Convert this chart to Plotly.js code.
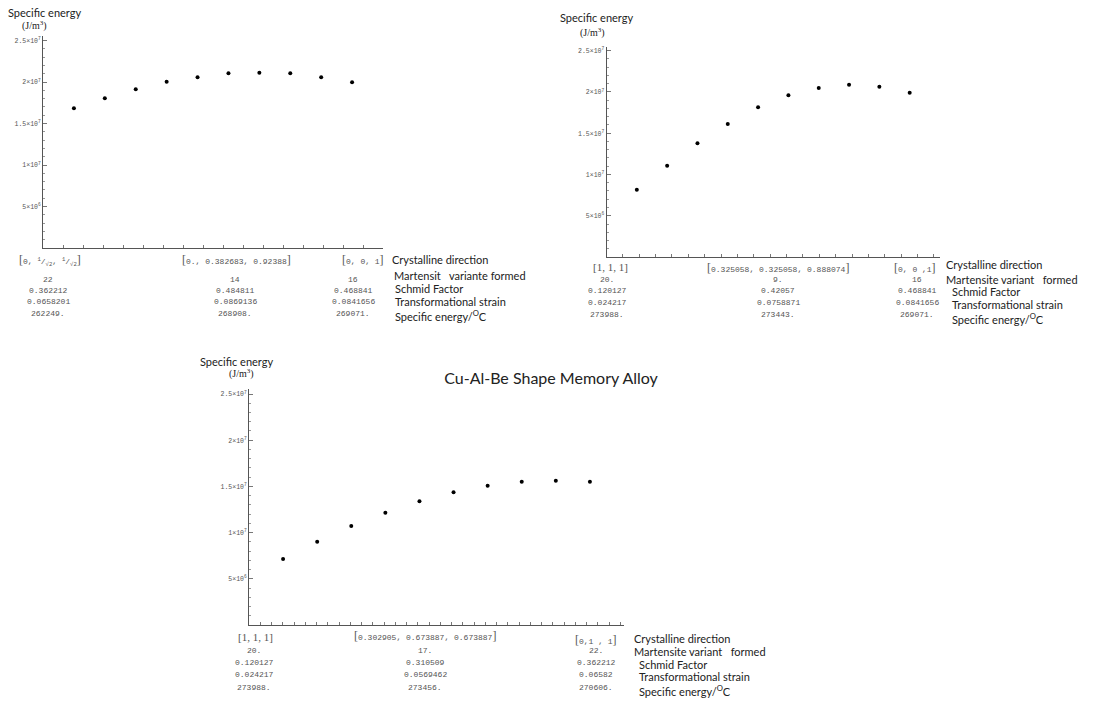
<!DOCTYPE html>
<html>
<head>
<meta charset="utf-8">
<script src="https://cdn.plot.ly/plotly-3.0.1.min.js"></script>
<style>html,body{margin:0;padding:0;background:#fff;}#chart{width:1107px;height:701px;}</style>
</head>
<body>
<div id="chart"></div>
<script>
// ---------------- DATA ----------------
const pointIndex = [1, 2, 3, 4, 5, 6, 7, 8, 9, 10];
const energyA = [1.683e7, 1.804e7, 1.912e7, 2.004e7, 2.057e7, 2.105e7, 2.112e7, 2.105e7, 2.057e7, 1.996e7];
const energyB = [0.816e7, 1.107e7, 1.378e7, 1.612e7, 1.815e7, 1.960e7, 2.048e7, 2.088e7, 2.064e7, 1.992e7];
const energyC = [0.714e7, 0.902e7, 1.071e7, 1.215e7, 1.339e7, 1.436e7, 1.508e7, 1.551e7, 1.562e7, 1.551e7];

const yTickVals = [5e6, 1e7, 1.5e7, 2e7, 2.5e7];
const yTickText = ["5×10<sup>6</sup>", "1×10<sup>7</sup>", "1.5×10<sup>7</sup>", "2×10<sup>7</sup>", "2.5×10<sup>7</sup>"];

const axisTitleTop = "Specific energy";
const axisTitleUnit = "(J/m<sup>3</sup>)";
const chartTitle = "Cu-Al-Be Shape Memory Alloy";

const rowLabelsA = ["Crystalline direction", "Martensit\u00a0\u00a0 variante formed", "Schmid Factor", "Transformational strain", "Specific energy/<sup>O</sup>C"];
const rowLabelsB = ["Crystalline direction", "Martensite variant\u00a0\u00a0 formed", "Schmid Factor", "Transformational strain", "Specific energy/<sup>O</sup>C"];
const rowLabelsC = ["Crystalline direction", "Martensite variant\u00a0\u00a0 formed", "Schmid Factor", "Transformational strain", "Specific energy/<sup>O</sup>C"];

const directionsA = ["[0, 1/√2, 1/√2]", "[0., 0.382683, 0.92388]", "[0, 0, 1]"];
const variantsA = ["22", "14", "16"];
const schmidA = ["0.362212", "0.484811", "0.468841"];
const strainA = ["0.0658201", "0.0869136", "0.0841656"];
const specEnergyA = ["262249.", "268908.", "269071."];

const directionsB = ["[1, 1, 1]", "[0.325058, 0.325058, 0.888074]", "[0, 0 ,1]"];
const variantsB = ["20.", "9.", "16"];
const schmidB = ["0.120127", "0.42057", "0.468841"];
const strainB = ["0.024217", "0.0758871", "0.0841656"];
const specEnergyB = ["273988.", "273443.", "269071."];

const directionsC = ["[1, 1, 1]", "[0.302905, 0.673887, 0.673887]", "[0,1 , 1]"];
const variantsC = ["20.", "17.", "22."];
const schmidC = ["0.120127", "0.310509", "0.362212"];
const strainC = ["0.024217", "0.0569462", "0.06582"];
const specEnergyC = ["273988.", "273456.", "270606."];

// ---------------- LAYOUT HELPERS ----------------
const W = 1107, H = 701;
const fx = p => p / W;
const fy = p => 1 - p / H;

const MONO = "Liberation Mono, DejaVu Sans Mono, monospace";
const SERIF = "Liberation Serif, DejaVu Serif, serif";
const SANS = "Lato, Open Sans, sans-serif";

function ann(text, px, py, font, xanchor) {
  return {text: text, x: fx(px), y: fy(py), xref: "paper", yref: "paper",
          showarrow: false, xanchor: xanchor || "center", yanchor: "middle",
          font: font, align: "left"};
}

function dirText(s) {
  let inner = s.slice(1, -1);
  const br = t => '<span style="font-family:Liberation Serif;font-size:12px">' + t + '</span>';
  if (inner.indexOf("0") === -1) {
    return '<span style="font-family:Liberation Serif;font-size:11px;">' + s + '</span>';
  }
  inner = inner.replace(/1\/√2/g, "<sup>1</sup>/<sub>√2</sub>");
  return br("[") + inner + br("]");
}

function xAx(domain, anchor, dtick) {
  return {domain: domain, anchor: anchor, range: [0, 11], showline: true, linecolor: "#555", linewidth: 1,
          showgrid: false, zeroline: false, showticklabels: false, ticks: "inside", ticklen: 3,
          tickcolor: "#777", tickmode: "linear", tick0: 0, dtick: dtick, fixedrange: true};
}
function yAx(domain, anchor) {
  return {domain: domain, anchor: anchor, range: [0, 2.55e7], showline: true, linecolor: "#555", linewidth: 1,
          showgrid: false, zeroline: false, tickmode: "array", tickvals: yTickVals, ticktext: yTickText,
          ticks: "inside", ticklen: 4, tickcolor: "#777",
          tickfont: {family: MONO, size: 6.5, color: "#555"},
          minor: {ticks: "inside", ticklen: 2, tickcolor: "#999", tickmode: "linear", tick0: 0, dtick: 1e6},
          fixedrange: true};
}

// plot boxes in pixels: [left, right, bottom, top]
const boxA = [43, 383, 248, 36.4];
const boxB = [606.5, 940, 257, 46.6];
const boxC = [249, 624, 625, 389.4];
const dom = b => ({x: [fx(b[0]), fx(b[1])], y: [fy(b[2]), fy(b[3])]});
const dA = dom(boxA), dB = dom(boxB), dC = dom(boxC);

const marker = {size: 4, color: "#000", symbol: "circle"};
const traces = [
  {x: pointIndex, y: energyA, xaxis: "x", yaxis: "y", mode: "markers", marker: marker, hoverinfo: "skip"},
  {x: pointIndex, y: energyB, xaxis: "x2", yaxis: "y2", mode: "markers", marker: marker, hoverinfo: "skip"},
  {x: pointIndex, y: energyC, xaxis: "x3", yaxis: "y3", mode: "markers", marker: marker, hoverinfo: "skip"}
];

const annotations = [];
const fTitle = {family: SANS, size: 11, color: "#222"};
const fUnit = {family: SERIF, size: 10, color: "#222"};
const fVal = {family: MONO, size: 8, color: "#555"};
const fRow = {family: SANS, size: 11, color: "#222"};

function addTable(dirs, vars, sch, str, en, labels, dirX, valX, dirY, valYs, labX, labYs) {
  for (let i = 0; i < 3; i++) {
    annotations.push(ann(dirText(dirs[i]), dirX[i], dirY[i], fVal));
    annotations.push(ann(vars[i], valX[i], valYs[0], fVal));
    annotations.push(ann(sch[i], valX[i], valYs[1], fVal));
    annotations.push(ann(str[i], valX[i], valYs[2], fVal));
    annotations.push(ann(en[i], valX[i], valYs[3], fVal));
  }
  for (let j = 0; j < labels.length; j++) {
    annotations.push(ann(labels[j], labX[j], labYs[j], fRow, "left"));
  }
}

// axis titles
annotations.push(ann(axisTitleTop, 6, 12, fTitle, "left"));
annotations.push(ann(axisTitleUnit, 34, 26, fUnit));
annotations.push(ann(axisTitleTop, 558, 18, fTitle, "left"));
annotations.push(ann(axisTitleUnit, 592, 32, fUnit));
annotations.push(ann(axisTitleTop, 198, 361, fTitle, "left"));
annotations.push(ann(axisTitleUnit, 242, 374, fUnit));

addTable(directionsA, variantsA, schmidA, strainA, specEnergyA, rowLabelsA,
  [50, 236, 363], [48, 235, 353], [260, 260, 260], [279, 290, 301, 313],
  [390, 392, 393, 393, 393], [259, 275, 288, 301, 315]);
addTable(directionsB, variantsB, schmidB, strainB, specEnergyB, rowLabelsB,
  [610, 778, 915], [607, 778, 917], [267, 268, 268], [279, 290, 302, 314],
  [944, 944, 950, 950, 950], [265, 279, 292, 304, 318]);
addTable(directionsC, variantsC, schmidC, strainC, specEnergyC, rowLabelsC,
  [255, 425, 596], [254, 425, 596], [637, 636, 640], [650, 662, 674, 687],
  [632, 632, 637, 637, 637], [638, 651, 664, 676, 690]);

const layout = {
  width: W, height: H,
  margin: {l: 0, r: 0, t: 0, b: 0},
  paper_bgcolor: "#fff", plot_bgcolor: "rgba(0,0,0,0)",
  showlegend: false,
  title: {text: chartTitle, x: fx(551), y: fy(378), xref: "container", yref: "container",
          xanchor: "center", yanchor: "middle", font: {family: SANS, size: 16, color: "#222"}},
  xaxis: xAx(dA.x, "y", 11 / 17),
  yaxis: yAx(dA.y, "x"),
  xaxis2: xAx(dB.x, "y2", 0.54),
  yaxis2: yAx(dB.y, "x2"),
  xaxis3: xAx(dC.x, "y3", 0.33),
  yaxis3: yAx(dC.y, "x3"),
  annotations: annotations
};

Plotly.newPlot("chart", traces, layout, {displayModeBar: false, staticPlot: true});
</script>
</body>
</html>
